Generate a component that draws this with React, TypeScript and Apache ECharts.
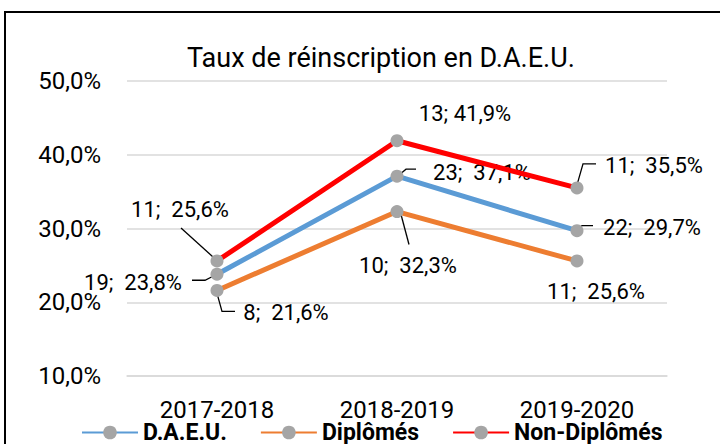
import { useEffect, useRef } from 'react';
import * as echarts from 'echarts';

const categories = ['2017-2018', '2018-2019', '2019-2020'];
const seriesNames = ['D.A.E.U.', 'Diplômés', 'Non-Diplômés'];
const daeuCounts = [19, 23, 22];
const daeuRates = [23.8, 37.1, 29.7];
const diplomesCounts = [8, 10, 11];
const diplomesRates = [21.6, 32.3, 25.6];
const nonDiplomesCounts = [11, 13, 11];
const nonDiplomesRates = [25.6, 41.9, 35.5];
const yMin = 10;
const yMax = 50;
const yStep = 10;

// label placement (offsets from the point, in px)
const labelOffsets = [
  [[-84, 8], [85, -4], [75, -3]],
  [[69, 22], [11, 54], [19, 31]],
  [[-37, -51], [68, -27], [77, -22]],
];
const labelSeps = [
  ['  ', '  ', '  '],
  ['  ', '  ', '  '],
  ['  ', ' ', '  '],
];
// leader lines: offsets from the point, in px (null = no leader)
const leaders: (number[][] | null)[][] = [
  [[[-4, 2], [-12, 6], [-25, 6]], [[3, -2], [9, -7], [19, -7]], [[1, -2], [5, -5], [16, -5]]],
  [[[0, 3], [5, 21], [18, 21]], [[4, 3], [12, 33]], null],
  [[[-4, -4], [-36, -33]], null, [[0, -3], [6, -24], [19, -24]]],
];
const colors = ['#5B9BD5', '#ED7D31', '#FF0000'];

const FONT = 'Roboto';

const fmtPct = (v: number) => v.toFixed(1).replace('.', ',') + '%';

function makeSeries(si: number, name: string, counts: number[], rates: number[]) {
  return {
    type: 'line',
    name,
    data: rates,
    symbol: 'circle',
    symbolSize: 13,
    lineStyle: { color: colors[si], width: 5 },
    itemStyle: { color: '#A5A5A5' },
    z: 2 + si,
    label: {
      show: true,
      position: 'inside',
      color: '#000',
      fontFamily: FONT,
      fontSize: 22,
      formatter: (p: any) => `${counts[p.dataIndex]};${labelSeps[si][p.dataIndex]}${fmtPct(p.value)}`,
    },
    labelLayout: (p: any) => {
      const o = labelOffsets[si][p.dataIndex];
      return { dx: o[0], dy: o[1] };
    },
  };
}

const borderRect = {
  type: 'rect',
  shape: { x: 5, y: 12, width: 740, height: 470 },
  style: { fill: 'none', stroke: '#000', lineWidth: 2 },
  silent: true,
  z: 10,
};

export default function App() {
  const ref = useRef<HTMLDivElement>(null);
  useEffect(() => {
    document.body.style.margin = '0';
    const chart = echarts.init(ref.current!, undefined, { renderer: 'svg' });
    const allRates = [daeuRates, diplomesRates, nonDiplomesRates];
    chart.setOption({
      animation: false,
      color: colors,
      title: {
        text: 'Taux de réinscription en D.A.E.U.',
        left: 182,
        top: 39,
        textStyle: { fontFamily: FONT, fontSize: 27, fontWeight: 'normal', color: '#000' },
      },
      legend: {
        left: 81,
        top: 421,
        padding: 0,
        itemWidth: 56,
        itemHeight: 17,
        itemGap: 33,
        textStyle: { fontFamily: FONT, fontSize: 23, lineHeight: 20, fontWeight: 'bold', color: '#000' },
        data: seriesNames,
      },
      grid: { left: 127, right: 53, top: 81, bottom: 68, containLabel: false },
      xAxis: {
        type: 'category',
        data: categories,
        boundaryGap: true,
        axisLine: { show: true, lineStyle: { color: '#D9D9D9', width: 1.5 } },
        axisTick: { show: false },
        axisLabel: { fontFamily: FONT, fontSize: 24, lineHeight: 22, color: '#000', margin: 23 },
      },
      yAxis: {
        type: 'value',
        min: yMin,
        max: yMax,
        interval: yStep,
        axisLine: { show: false },
        axisTick: { show: false },
        splitLine: { lineStyle: { color: '#D9D9D9', width: 1.5 } },
        axisLabel: { fontFamily: FONT, fontSize: 24, color: '#000', margin: 26, formatter: (v: number) => fmtPct(v) },
      },
      graphic: [borderRect],
      series: [
        makeSeries(0, seriesNames[0], daeuCounts, daeuRates),
        makeSeries(1, seriesNames[1], diplomesCounts, diplomesRates),
        makeSeries(2, seriesNames[2], nonDiplomesCounts, nonDiplomesRates),
      ],
    });
    const guideEls: any[] = [];
    allRates.forEach((rates, si) => {
      rates.forEach((v, i) => {
        const pts = leaders[si][i];
        if (!pts) return;
        const [px, py] = chart.convertToPixel({ seriesIndex: si }, [i, v]) as number[];
        guideEls.push({
          type: 'polyline',
          shape: { points: pts.map(([dx, dy]) => [px + dx, py + dy]) },
          style: { stroke: '#000', lineWidth: 1.3, fill: 'none' },
          silent: true,
          z: 1,
        });
      });
    });
    chart.setOption({ graphic: [borderRect, ...guideEls] });
    return () => chart.dispose();
  }, []);
  return <div ref={ref} style={{ width: 720, height: 444 }} />;
}
